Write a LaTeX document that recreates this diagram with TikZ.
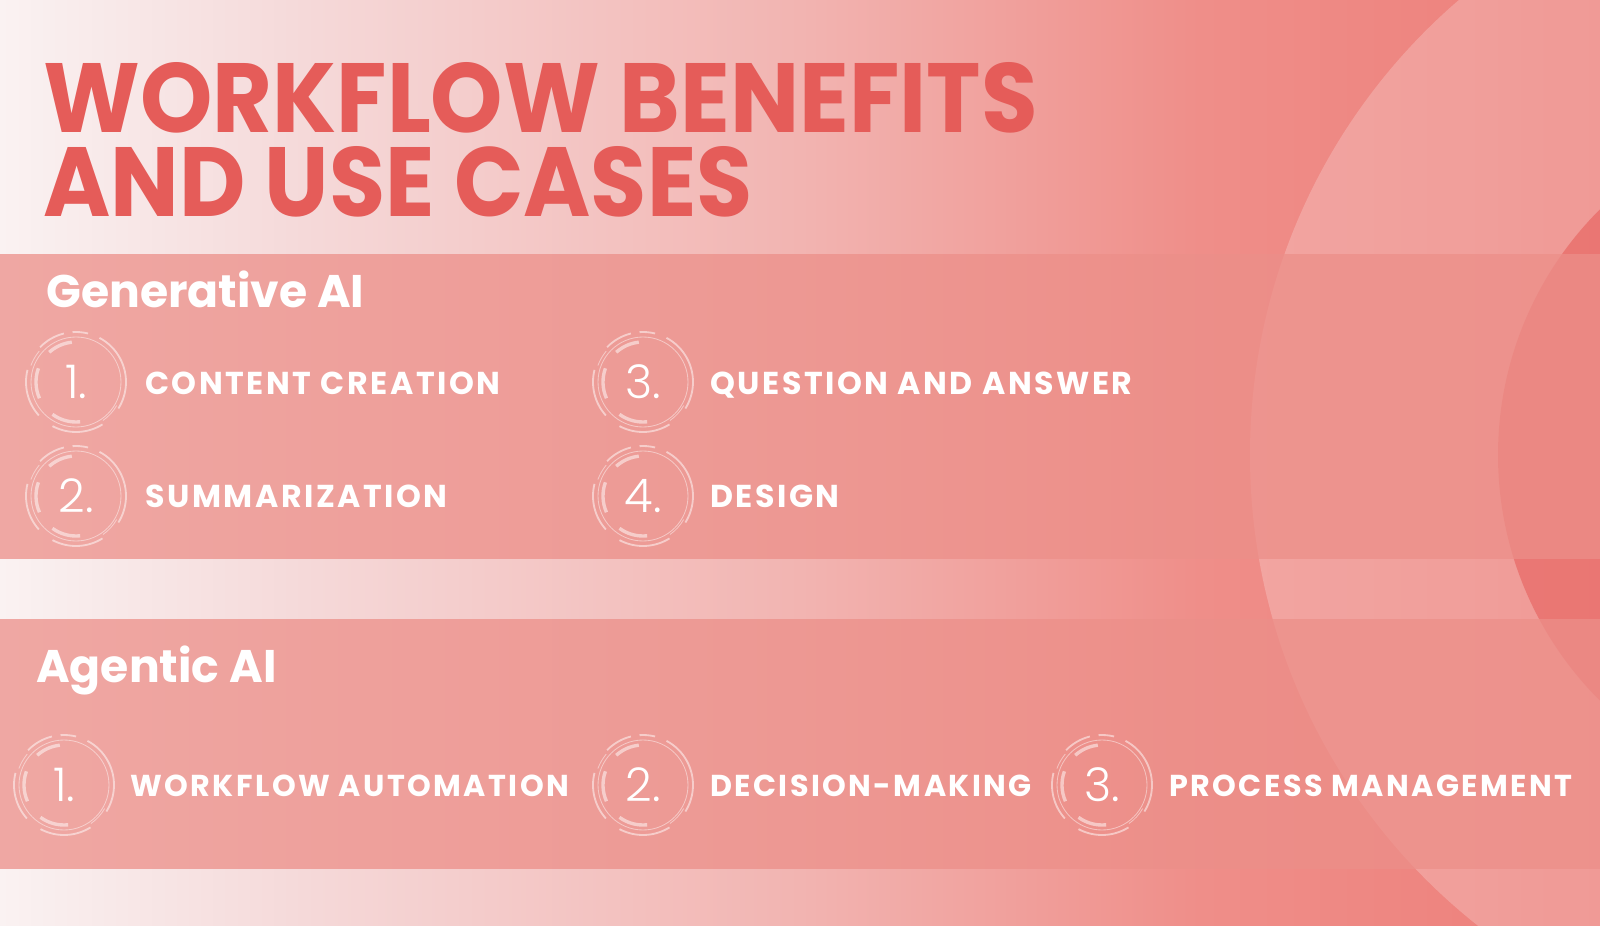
\documentclass[tikz,border=0pt]{standalone}
\usepackage{fontspec}
\usepackage{graphicx}
\setmainfont{Poppins}
\newfontfamily\headfont{Poppins Bold}
\newfontfamily\labelfont[LetterSpace=8]{Poppins Bold}
\newfontfamily\numfont{Poppins Light}
\usetikzlibrary{calc}

\definecolor{titlered}{RGB}{229,92,89}
\definecolor{bgA}{RGB}{250,242,242}
\definecolor{bgB}{RGB}{245,217,217}
\definecolor{bgC}{RGB}{242,180,177}
\definecolor{bgD}{RGB}{239,142,137}
\definecolor{bgE}{RGB}{238,133,128}
\definecolor{bgF}{RGB}{236,126,121}
\definecolor{bandc}{RGB}{236,143,137}
\definecolor{innerc}{RGB}{230,95,92}
\pgfdeclarehorizontalshading{bgshade}{100bp}{color(0bp)=(bgA); color(25bp)=(bgA); color(34.5bp)=(bgB); color(50bp)=(bgC); color(62.5bp)=(bgD); color(70bp)=(bgE); color(75bp)=(bgF); color(100bp)=(bgF)}

\tikzset{
  sectionhead/.style={anchor=base west, inner sep=0, text=white, font=\headfont\fontsize{32.5}{36}\selectfont},
  usecase/.style={anchor=base west, inner sep=0, text=white, font=\labelfont\fontsize{22.5}{26}\selectfont},
  agentcase/.style={usecase, font=\labelfont\fontsize{21.5}{25}\selectfont},
  casenum/.style={inner sep=0, text=white, font=\numfont\fontsize{33}{36}\selectfont},
  titleline/.style={anchor=base west, inner sep=0, text=titlered, font=\headfont\fontsize{60}{66}\selectfont},
  ringthin/.style={white, opacity=0.45, line width=0.6pt},
  ringouter/.style={white, opacity=0.5, line width=1.3pt},
  ringinner/.style={white, opacity=0.5, line width=2.4pt},
}

\def\ringarc[#1](#2)(#3:#4:#5){\draw[#1] ($(#2)+(#3:#5)$) arc (#3:#4:#5);}
\def\ringicon(#1){%
  \draw[ringthin] (#1) circle (45);
  \ringarc[ringouter](#1)(76:94:50)
  \ringarc[ringouter](#1)(104:136:50)
  \ringarc[ringouter](#1)(-32:62:50)
  \ringarc[ringouter](#1)(166:222:50)
  \ringarc[ringouter](#1)(242:302:50)
  \ringarc[ringthin](#1)(140:160:48)
  \ringarc[ringthin](#1)(305:330:47)
  \ringarc[ringinner](#1)(96:132:40)
  \ringarc[ringinner](#1)(160:204:40)
  \ringarc[ringinner](#1)(234:276:40)
}

\begin{document}
\begin{tikzpicture}[x=0.025cm, y=0.025cm]
			%%%%% START %%%%%
			
			\useasboundingbox (0, 0) rectangle (1600, -926);
			\clip (0, 0) rectangle (1600, -926);
			\shade[shading=bgshade] (0, 0) rectangle (1600, -926);
			
			% circles on the right
			\fill[white, opacity=0.22] (1850, -455) circle (600);
			\fill[innerc, opacity=0.6] (1845, -455) circle (347);
			
			% bands
			\fill[bandc, opacity=0.75] (0, -254) rectangle (1600, -559);
			\fill[bandc, opacity=0.75] (0, -619) rectangle (1600, -869);
			
			% title
			\node[titleline] (title1) at (43, -133) {\resizebox{24.85cm}{1.75cm}{WORKFLOW BENEFITS}};
			\node[titleline] (title2) at (43, -217) {\resizebox{17.73cm}{1.75cm}{AND USE CASES}};
			
			% generative AI
			\node[sectionhead] (genhead) at (46, -308) {Generative AI};
			
			\coordinate (g1) at (76, -382);
			\coordinate (g2) at (76, -496);
			\coordinate (g3) at (643, -382);
			\coordinate (g4) at (643, -496);
			\ringicon(g1)
			\ringicon(g2)
			\ringicon(g3)
			\ringicon(g4)
			\node[casenum] (g1num) at (g1) {1.};
			\node[casenum] (g2num) at (g2) {2.};
			\node[casenum] (g3num) at (g3) {3.};
			\node[casenum] (g4num) at (g4) {4.};
			\node[usecase] (g1lab) at (145, -394) {CONTENT CREATION};
			\node[usecase] (g2lab) at (145, -507) {SUMMARIZATION};
			\node[usecase] (g3lab) at (710, -394) {QUESTION AND ANSWER};
			\node[usecase] (g4lab) at (710, -507) {DESIGN};
			
			% agentic AI
			\node[sectionhead] (aghead) at (36, -682) {Agentic AI};
			
			\coordinate (a1) at (64, -785);
			\coordinate (a2) at (643, -785);
			\coordinate (a3) at (1102, -785);
			\ringicon(a1)
			\ringicon(a2)
			\ringicon(a3)
			\node[casenum] (a1num) at (a1) {1.};
			\node[casenum] (a2num) at (a2) {2.};
			\node[casenum] (a3num) at (a3) {3.};
			\node[agentcase] (a1lab) at (130, -796) {WORKFLOW AUTOMATION};
			\node[agentcase] (a2lab) at (710, -796) {DECISION-MAKING};
			\node[agentcase] (a3lab) at (1169, -796) {PROCESS MANAGEMENT};
			
			%%%%% END %%%%%
\end{tikzpicture}
\end{document}
